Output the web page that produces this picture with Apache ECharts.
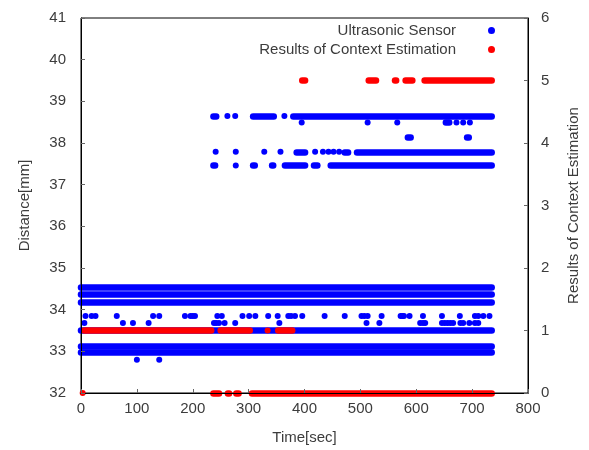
<!DOCTYPE html>
<html>
<head>
<meta charset="utf-8">
<script src="https://cdn.jsdelivr.net/npm/echarts@6.0.0/dist/echarts.min.js"></script>
<style>
html, body { margin: 0; background: #fff; }
#main { width: 589px; height: 450px; }
</style>
</head>
<body>
<div id="main"></div>
<script>
// ultrasonic sensor (left axis, mm): continuous runs [start sec, end sec, distance]
const sensorRuns = [
    [0, 735, 34.55], [0, 735, 34.36], [0, 735, 34.18],
    [0, 735, 33.5], [0, 735, 33.13], [0, 735, 32.98],
    [237, 242, 38.65], [308, 345, 38.65], [380, 735, 38.65],
    [653, 659, 38.49],
    [585, 590, 38.13], [691, 694, 38.13],
    [386, 401, 37.79], [472, 478, 37.79], [494, 735, 37.79],
    [237, 240, 37.46], [308, 311, 37.46], [342, 344, 37.46],
    [365, 401, 37.46], [417, 423, 37.46], [447, 735, 37.46]
];

// single sensor samples, grouped by distance: [distance, [sec, ...]]
const sensorDots = [
    [33.85, [8, 19, 26, 64, 129, 140, 186, 196, 200, 204, 244, 252, 289, 301, 312, 335, 352,
             371, 376, 383, 396, 436, 472, 502, 507, 513, 538, 572, 575, 578, 588, 612, 646,
             678, 705, 711, 720, 731]],
    [33.68, [6, 75, 93, 121, 238, 242, 247, 257, 276, 355, 511, 534, 607, 612, 616, 646, 651,
             656, 661, 666, 679, 684, 695, 705, 711]],
    [32.80, [100, 140]],
    [38.65, [262, 276, 364]],
    [38.49, [395, 513, 566, 672, 684, 696]],
    [37.79, [241, 277, 328, 357, 419, 433, 443, 452, 462]],
    [37.46, [277]]
];

// context estimation (right axis): [start sec, end sec, result]
const contextRuns = [
    [6, 233, 1], [250, 302, 1], [353, 378, 1],
    [396, 401, 5], [515, 528, 5], [562, 564, 5], [581, 593, 5], [615, 735, 5],
    [237, 247, 0], [263, 265, 0], [278, 282, 0], [306, 735, 0]
];
const contextDots = [
    [1, [334]],
    [0, [3]]
];

const BLUE = '#0000ff';
const RED = '#ff0000';
const TEXT = '#3c3c3c';
const FONT = 'Liberation Sans';

function runSeries(name, runs, color, yAxisIndex) {
    return {
        name: name,
        type: 'lines',
        coordinateSystem: 'cartesian2d',
        xAxisIndex: 0,
        yAxisIndex: yAxisIndex,
        clip: false,
        silent: true,
        lineStyle: {color: color, width: 6.5, opacity: 1, cap: 'round', curveness: 0},
        data: runs.map(r => ({coords: [[r[0], r[2]], [r[1], r[2]]]}))
    };
}

function dotSeries(name, groups, color, yAxisIndex) {
    let pts = [];
    groups.forEach(g => g[1].forEach(t => pts.push([t, g[0]])));
    return {
        name: name,
        type: 'scatter',
        yAxisIndex: yAxisIndex,
        clip: false,
        silent: true,
        symbol: 'circle',
        symbolSize: 6,
        itemStyle: {color: color, opacity: 1},
        data: pts
    };
}

const axisText = {color: TEXT, fontSize: 15, fontFamily: FONT};

let chart = echarts.init(document.getElementById('main'), null, {renderer: 'canvas'});
chart.setOption({
    animation: false,
    backgroundColor: '#fff',
    textStyle: {fontFamily: FONT},
    grid: {left: 81, right: 57, top: 18, bottom: 54, show: true, borderColor: '#000', borderWidth: 1},
    legend: {
        orient: 'vertical',
        right: 94,
        top: 23,
        padding: 0,
        align: 'right',
        itemWidth: 5,
        itemHeight: 5,
        itemGap: 4,
        selectedMode: false,
        textStyle: {color: TEXT, fontSize: 15, fontFamily: FONT, padding: [0, 28, 0, 0]},
        data: [
            {name: 'Ultrasonic Sensor', icon: 'circle', itemStyle: {color: BLUE}},
            {name: 'Results of Context Estimation', icon: 'circle', itemStyle: {color: RED}}
        ]
    },
    xAxis: {
        type: 'value',
        min: 0, max: 800, interval: 100,
        z: 10,
        name: 'Time[sec]',
        nameLocation: 'middle',
        nameGap: 37,
        nameTextStyle: axisText,
        axisLine: {lineStyle: {color: '#000', width: 1}},
        axisTick: {inside: true, length: 4, lineStyle: {color: '#666'}},
        axisLabel: Object.assign({margin: 8}, axisText),
        splitLine: {show: false}
    },
    yAxis: [
        {
            type: 'value',
            min: 32, max: 41, interval: 1,
            position: 'left',
            z: 10,
            name: 'Distance[mm]',
            nameLocation: 'middle',
            nameGap: 49,
            nameRotate: 90,
            nameTextStyle: axisText,
            axisLine: {show: true, lineStyle: {color: '#000', width: 1}},
            axisTick: {show: true, inside: true, length: 4, lineStyle: {color: '#666'}},
            axisLabel: Object.assign({margin: 15}, axisText),
            splitLine: {show: false}
        },
        {
            type: 'value',
            min: 0, max: 6, interval: 1,
            position: 'right',
            z: 10,
            name: 'Results of Context Estimation',
            nameLocation: 'middle',
            nameGap: 38,
            nameRotate: 90,
            nameTextStyle: axisText,
            axisLine: {show: true, lineStyle: {color: '#000', width: 1}},
            axisTick: {show: true, inside: true, length: 4, lineStyle: {color: '#666'}},
            axisLabel: Object.assign({margin: 13}, axisText),
            splitLine: {show: false}
        }
    ],
    series: [
        runSeries('Ultrasonic Sensor', sensorRuns, BLUE, 0),
        dotSeries('Ultrasonic Sensor', sensorDots, BLUE, 0),
        runSeries('Results of Context Estimation', contextRuns, RED, 1),
        dotSeries('Results of Context Estimation', contextDots, RED, 1)
    ]
});
</script>
</body>
</html>
